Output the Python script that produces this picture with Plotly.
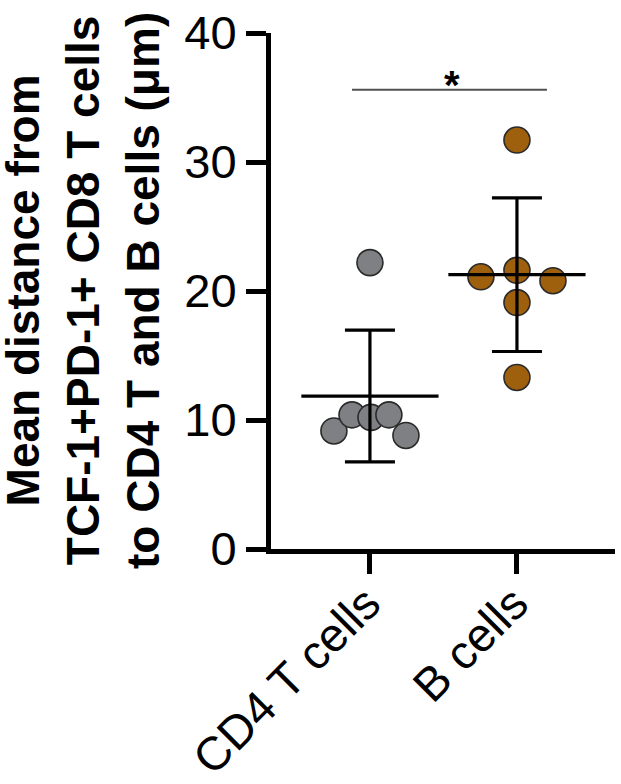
import numpy as np
import plotly.graph_objects as go

categories = ["CD4 T cells", "B cells"]
cd4_values = [22.2, 9.15, 10.4, 10.2, 10.4, 8.8]
b_values = [31.7, 21.1, 21.6, 20.8, 19.1, 13.3]
cd4_offsets = [0.0, -0.245, -0.122, 0.007, 0.129, 0.245]
b_offsets = [0.0, -0.245, 0.0, 0.245, 0.0, 0.0]
y_ticks = [0, 10, 20, 30, 40]
colors = ["#7f8083", "#9f600d"]

groups = [cd4_values, b_values]
offsets = [cd4_offsets, b_offsets]

fig = go.Figure()
for i, (vals, offs) in enumerate(zip(groups, offsets)):
    fig.add_trace(go.Scatter(
        x=[i + o for o in offs], y=vals, mode="markers",
        marker=dict(size=26, color=colors[i], line=dict(color="#2a2a2a", width=1.6)),
        showlegend=False, hoverinfo="y"))

means = [float(np.mean(v)) for v in groups]
sds = [float(np.std(v, ddof=1)) for v in groups]
fig.add_trace(go.Scatter(
    x=[0, 1], y=means, mode="markers",
    marker=dict(symbol="line-ew-open", size=98, color="black",
                line=dict(color="black", width=3.2)),
    error_y=dict(type="data", array=sds, visible=True, color="black", thickness=3.2, width=25),
    showlegend=False, hoverinfo="skip"))

font_main = "Liberation Sans, Arial, Helvetica, sans-serif"

fig.update_layout(
    width=621, height=784,
    margin=dict(l=271, r=6, t=33, b=235),
    plot_bgcolor="white", paper_bgcolor="white",
    xaxis=dict(range=[-0.673, 1.667], tickvals=[0, 1], ticktext=["", ""],
               ticks="outside", ticklen=20, tickwidth=5, tickcolor="black",
               showline=True, linewidth=5, linecolor="black", showgrid=False, zeroline=False,
               automargin=False),
    yaxis=dict(range=[0, 40], tickvals=y_ticks, ticks="outside", ticklen=20, tickwidth=5,
               tickcolor="black", showline=True, linewidth=5, linecolor="black",
               showgrid=False, zeroline=False, automargin=False,
               tickfont=dict(family=font_main, size=47, color="black")),
)

# category labels, rotated -45 degrees, hanging from each tick
for i, name in enumerate(categories):
    fig.add_annotation(
        xref="x", yref="paper", x=i, y=0, xanchor="right", yanchor="top",
        xshift=23, yshift=-25, textangle=-45, showarrow=False, text=name,
        font=dict(family=font_main, size=47, color="black"))

fig.add_annotation(
    xref="paper", yref="paper", x=(83 - 271) / 344, y=0.5,
    xanchor="center", yanchor="middle", textangle=-90, showarrow=False,
    text="<b>Mean distance from<br>TCF-1+PD-1+ CD8 T cells<br>to CD4 T and B cells (μm)</b>",
    font=dict(family=font_main, size=46, color="black"))

# significance bar
sig_y = 35.6
fig.add_shape(type="line", xref="x", yref="y", x0=-0.122, x1=1.204, y0=sig_y, y1=sig_y,
              line=dict(color="#505050", width=2.2))
fig.add_annotation(xref="x", yref="y", x=0.56, y=sig_y, text="<b>*</b>", showarrow=False,
                   yanchor="bottom", yshift=-19, font=dict(family=font_main, size=40, color="black"))

fig.write_html("out.html", config={"displayModeBar": False},
               post_script="document.body.style.margin='0px';")
